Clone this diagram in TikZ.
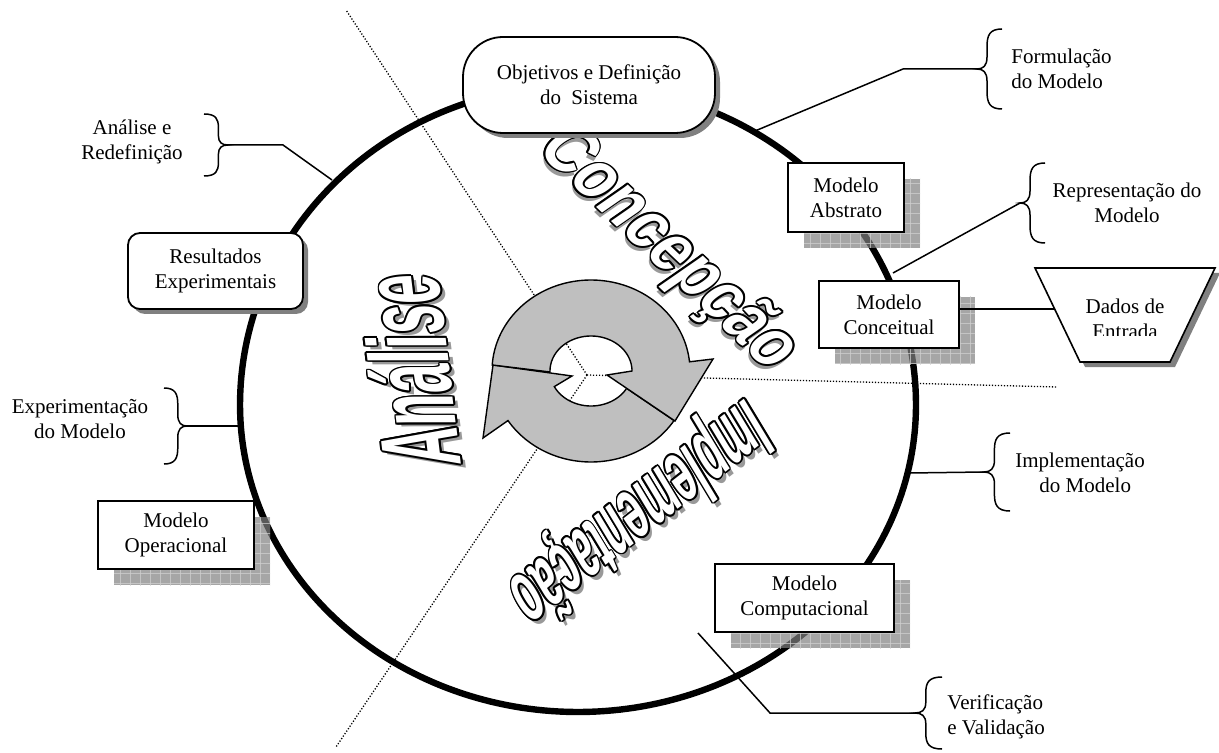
\documentclass[tikz,border=0pt]{standalone}
\usepackage{fontspec}
\setmainfont{Liberation Serif}
\newfontfamily\wafont{Liberation Sans Bold}[FakeSlant=0.25]
\usepackage{graphicx}
\usetikzlibrary{calc,shadows,patterns.meta}

\tikzset{
  lbl/.style={font=\fontsize{10.5}{12.5}\selectfont, inner sep=0pt},
  mbox/.style={draw, line width=0.8pt, fill=white, font=\fontsize{10.5}{12.5}\selectfont,
     align=center, inner sep=0pt,
     drop shadow={shadow xshift=8pt, shadow yshift=-8pt, fill=black!50, opacity=0.7,
       postaction={pattern={Lines[distance=5pt, angle=0, line width=0.35pt]}, pattern color=black!18},
       postaction={pattern={Lines[distance=5pt, angle=90, line width=0.35pt]}, pattern color=black!18}}},
  rbox/.style={draw, line width=0.9pt, fill=white, font=\fontsize{10.5}{12.5}\selectfont,
     align=center, inner sep=0pt,
     drop shadow={shadow xshift=2.5pt, shadow yshift=-2.5pt, fill=black!50, opacity=1}},
  conn/.style={line width=0.75pt},
  brc/.style={line width=0.75pt},
  dots/.style={line width=0.65pt, dash pattern=on 0.6pt off 0.9pt},
  orbit/.style={line width=3.2pt, line join=round},
  ring/.style={draw, line width=0.7pt, fill=black!25, line join=miter},
  wa/.style={font=\wafont\fontsize{30}{30}\selectfont, inner sep=0pt}
}

% curly brace: #1 x of ends, #2 y top, #3 y bottom, #4 width (positive: tip to the left)
\newcommand\mybrace[4]{%
  \draw[brc] (#1,#2)
    .. controls ({#1-0.5*(#4)},{#2}) and ({#1-0.6*(#4)},{#2+0.08*(#3-#2)}) .. ({#1-0.6*(#4)},{#2+0.22*(#3-#2)})
    -- ({#1-0.6*(#4)},{(#2+#3)/2-0.15*(#3-#2)})
    .. controls ({#1-0.6*(#4)},{(#2+#3)/2-0.04*(#3-#2)}) and ({#1-0.75*(#4)},{(#2+#3)/2}) .. ({#1-(#4)},{(#2+#3)/2})
    .. controls ({#1-0.75*(#4)},{(#2+#3)/2}) and ({#1-0.6*(#4)},{(#2+#3)/2+0.04*(#3-#2)}) .. ({#1-0.6*(#4)},{(#2+#3)/2+0.15*(#3-#2)})
    -- ({#1-0.6*(#4)},{#3-0.22*(#3-#2)})
    .. controls ({#1-0.6*(#4)},{#3-0.08*(#3-#2)}) and ({#1-0.5*(#4)},{#3}) .. (#1,#3);}

% word-art text: #1 name, #2 x, #3 y, #4 rotation, #5 xscale, #6 yscale, #7 shadow dx, #8 shadow dy, #9 text
\newcommand\wordart[9]{%
  \node[wa, text=black!40, rotate=#4] (#1-s) at ({#2+#7},{#3+#8}) {\scalebox{#5}[#6]{#9}};
  \foreach \a in {0,30,...,330}{%
    \node[wa, text=black, rotate=#4] (#1-\a) at ({#2+1.7*cos(\a)},{#3+1.7*sin(\a)}) {\scalebox{#5}[#6]{#9}};}
  \node[wa, text=white, rotate=#4] (#1) at (#2,#3) {\scalebox{#5}[#6]{#9}};}

\begin{document}
\begin{tikzpicture}[x=0.5pt, y=-0.5pt]
\useasboundingbox (0,0) rectangle (1219,753);

% dotted division lines
\coordinate (O) at (587,375);
\coordinate (dNW) at (346,10);
\coordinate (dSW) at (336,747);
\coordinate (dE) at (1057,387);
\draw[dots] (O) -- (dNW);
\draw[dots] (O) -- (dSW);
\draw[dots] (O) -- (dE);

% main cycle
\draw[orbit] plot[domain=180:360, samples=140] ({578+338*cos(\x)},{405+320*sin(\x)})
  -- plot[domain=0:180, samples=140] ({578+338*cos(\x)},{405+307*sin(\x)}) -- cycle;

% connectors to the braces
\coordinate (eF) at (755,131); \coordinate (kF) at (903,69); \coordinate (tF) at (977,69);
\coordinate (eR) at (893,273); \coordinate (tR) at (1020,203);
\coordinate (eI) at (909,473); \coordinate (tI) at (984,472);
\coordinate (eV) at (698,633); \coordinate (kV) at (770,713); \coordinate (tV) at (915,713);
\coordinate (eA) at (332,180); \coordinate (kA) at (283,145); \coordinate (tA) at (228,145);
\coordinate (eE) at (238,426); \coordinate (tE) at (187,426);
\draw[conn] (eF) -- (kF) -- (tF);
\draw[conn] (eR) -- (tR);
\draw[conn] (eI) -- (tI);
\draw[conn] (eV) -- (kV) -- (tV);
\draw[conn] (eA) -- (kA) -- (tA);
\draw[conn] (eE) -- (tE);

% braces
\mybrace{1002}{29}{109}{25}
\mybrace{1045}{163}{243}{25}
\mybrace{1010}{433}{511}{26}
\mybrace{942}{677}{749}{27}
\mybrace{204}{114}{176}{-24}
\mybrace{164}{388}{464}{-23}

% brace labels
\node[lbl, anchor=west, align=left] (lblF) at (1011,69) {Formulação\\do Modelo};
\node[lbl, align=center] (lblR) at (1127,203) {Representação do\\Modelo};
\node[lbl, align=center] (lblI) at (1080,473) {Implementação\\\ \ do Modelo};
\node[lbl, anchor=west, align=left] (lblV) at (947,717) {Verificação\\e Validação};
\node[lbl, align=center] (lblA) at (132,142) {Análise e\\Redefinição};
\node[lbl, align=center] (lblE) at (80,419) {Experimentação\\do Modelo};

% central circular arrows
\filldraw[ring] plot[domain=33:147, samples=60] ({591+99*cos(\x)},{371+91*sin(\x)})
   -- (483,438) -- (493,365) -- (572,376)
   -- plot[domain=153.5:29.7, samples=50] ({591+41*cos(\x)},{371+35*sin(\x)}) -- cycle;
\filldraw[ring] plot[domain=183.8:354.2, samples=80] ({591+99*cos(\x)},{371+91*sin(\x)})
   -- (713,359) -- (675,421) -- (607,375)
   -- plot[domain=360:178.4, samples=60] ({591+41*cos(\x)},{371+35*sin(\x)}) -- cycle;

% word-art phase names
\wordart{wConc}{665}{247}{-43.5}{1.0}{1.2}{-2}{5}{Concepção}
\wordart{wAna}{410}{375}{97}{0.9}{1.85}{5}{4}{Análise}
\wordart{wImp}{640}{509}{218}{0.7}{1.45}{4}{5}{Implementação}

% boxes
\node[rbox, rounded corners=20pt, minimum width=126pt, minimum height=48pt] (obj) at (589,85)
   {Objetivos e Definição\\do\ \ Sistema};
\node[rbox, rounded corners=6pt, minimum width=87.5pt, minimum height=38pt] (res) at (215.5,271)
   {Resultados\\Experimentais};
\node[mbox, minimum width=58pt, minimum height=34.5pt] (abs) at (846,197.5) {Modelo\\Abstrato};
\node[mbox, minimum width=70pt, minimum height=33.5pt] (con) at (889,314.5) {Modelo\\Conceitual};
\node[mbox, minimum width=89.5pt, minimum height=34pt] (cmp) at (804.5,598) {Modelo\\Computacional};
\node[mbox, minimum width=78pt, minimum height=34pt] (ope) at (176,535) {Modelo\\Operacional};

% input data trapezoid
\coordinate (tTL) at (1035,268); \coordinate (tTR) at (1215,268);
\coordinate (tBR) at (1170,362); \coordinate (tBL) at (1080,362);
\coordinate (dL) at (1055,309);
\fill[black!50] ($(tTL)+(5,5)$) -- ($(tTR)+(5,5)$) -- ($(tBR)+(5,5)$) -- ($(tBL)+(5,5)$) -- cycle;
\draw[line width=0.8pt, fill=white] (tTL) -- (tTR) -- (tBR) -- (tBL) -- cycle;
\draw[conn] (con.east |- dL) -- (dL);
\begin{scope}
  \clip (1040,270) rectangle (1210,336);
  \node[lbl, align=center] (dados) at (1125,319) {Dados de\\Entrada};
\end{scope}
\end{tikzpicture}
\end{document}
